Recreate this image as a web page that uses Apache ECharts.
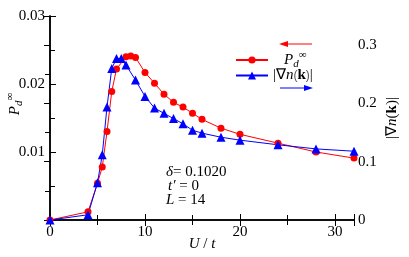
<!DOCTYPE html>
<html><head><meta charset="utf-8">
<script src="https://cdn.jsdelivr.net/npm/echarts@6/dist/echarts.min.js"></script>
<style>html,body{margin:0;padding:0;background:#fff}#c{width:409px;height:257px}</style>
</head><body><div id="c"></div>
<script>
var uRed = [0, 4, 5, 5.5, 6, 6.5, 7, 8, 8.5, 9, 10, 11, 12, 13, 14, 15, 16, 18, 20, 24, 28, 32];
var pdInf = [0, 0.0012, 0.0054, 0.0078, 0.0130, 0.0189, 0.0222, 0.0240, 0.0241, 0.0239, 0.0217, 0.0201, 0.0185, 0.0173, 0.0166, 0.0157, 0.0148, 0.0135, 0.0126, 0.0113, 0.0100, 0.0091];
var uBlue = [0, 4, 5, 5.5, 6, 6.5, 7, 7.5, 8, 9, 10, 11, 12, 13, 14, 15, 16, 18, 20, 24, 28, 32];
var gradN = [0, 0.009, 0.064, 0.112, 0.194, 0.260, 0.277, 0.277, 0.266, 0.240, 0.212, 0.192, 0.183, 0.174, 0.165, 0.154, 0.149, 0.142, 0.137, 0.129, 0.122, 0.118];
var xTicks = [0, 10, 20, 30];
var leftTicks = [0.01, 0.02, 0.03];
var rightTicks = [0, 0.1, 0.2, 0.3];
var notes = ['{i|δ}= 0.1020', '{i|t′} = 0', '{i|L} = 14'];

var FF = 'Liberation Serif';
var RED = '#ff0000', BLUE = '#0000ff';
var richPd = {
  P: {fontFamily: FF, fontStyle: 'italic', fontSize: 15, lineHeight: 20, color: '#000'},
  d: {fontFamily: FF, fontStyle: 'italic', fontSize: 11, lineHeight: 11, verticalAlign: 'bottom', color: '#000'},
  s: {fontFamily: FF, fontSize: 11, lineHeight: 11, verticalAlign: 'top', color: '#000'},
  pad: {width: 11}
};
var richG = {
  t: {fontFamily: FF, fontSize: 15, color: '#000'},
  i: {fontFamily: FF, fontStyle: 'italic', fontSize: 15, color: '#000'},
  b: {fontFamily: FF, fontWeight: 'bold', fontSize: 15, color: '#000'}
};
function fmt(v){ return xTicks.concat(leftTicks, rightTicks).indexOf(v) >= 0 ? String(v) : ''; }

var chart = echarts.init(document.getElementById('c'));
var axLine = {show: true, lineStyle: {color: '#000', width: 1.5}};
chart.setOption({
  animation: false,
  grid: {left: 50, right: 55, top: 16, bottom: 37, containLabel: false, outerBoundsMode: 'none'},
  xAxis: [{
    type: 'value', min: 0, max: 32, interval: 10,
    axisLine: axLine,
    axisTick: {inside: true, length: 6, lineStyle: {color: '#000'}},
    minorTick: {show: true, splitNumber: 2, length: 5, lineStyle: {color: '#000'}},
    splitLine: {show: false},
    axisLabel: {margin: 5, showMaxLabel: false, fontFamily: FF, fontSize: 15, color: '#000', formatter: fmt},
    name: '{i|U} / {i|t}', nameLocation: 'middle', nameGap: 17, nameMoveOverlap: false,
    nameTextStyle: {rich: richG, fontFamily: FF, fontSize: 15, color: '#000'}
  }, {
    type: 'value', min: 0, max: 32, interval: 10, position: 'top',
    axisLine: axLine,
    axisTick: {inside: true, length: 6, lineStyle: {color: '#000'}},
    minorTick: {show: true, splitNumber: 2, length: 5, lineStyle: {color: '#000'}},
    splitLine: {show: false}, axisLabel: {show: false}
  }],
  yAxis: [{
    type: 'value', min: 0, max: 0.03, interval: 0.01, position: 'left',
    axisLine: axLine,
    axisTick: {inside: true, length: 6, lineStyle: {color: '#000'}},
    minorTick: {show: true, splitNumber: 2, length: 5, lineStyle: {color: '#000'}},
    splitLine: {show: false},
    axisLabel: {margin: 5, showMinLabel: false, fontFamily: FF, fontSize: 15, color: '#000', formatter: fmt},
    name: '{P|P}{d|d}{s|∞}', nameLocation: 'middle', nameRotate: 90, nameGap: 25, nameMoveOverlap: false,
    nameTextStyle: {rich: richPd, padding: [0, 0, 0, 28]}
  }, {
    type: 'value', min: 0, max: 0.35, interval: 0.1, position: 'right',
    axisLine: axLine,
    axisTick: {inside: true, length: 6, lineStyle: {color: '#000'}},
    minorTick: {show: true, splitNumber: 2, length: 5, lineStyle: {color: '#000'}},
    splitLine: {show: false},
    axisLabel: {margin: 4, showMaxLabel: false, fontFamily: FF, fontSize: 15, color: '#000', formatter: fmt},
    name: '|∇{i|n}({b|k})|', nameLocation: 'middle', nameRotate: 90, nameGap: 31, nameMoveOverlap: false,
    nameTextStyle: {rich: richG, fontFamily: FF, fontSize: 15, color: '#000'}
  }],
  legend: [{
    data: ['pd'], orient: 'vertical', left: 230, top: 45, itemWidth: 32, itemHeight: 9,
    formatter: function(){ return '{pad|}{P|P}{d|d}{s|∞}'; },
    textStyle: {rich: richPd}
  }, {
    data: ['grad'], orient: 'vertical', left: 230, top: 63, itemWidth: 32, itemHeight: 10,
    formatter: function(){ return '{t||∇}{i|n}({b|k}){t||}'; },
    textStyle: {rich: richG}
  }],
  graphic: [
    {type: 'line', shape: {x1: 286, y1: 44, x2: 312, y2: 44}, style: {stroke: RED, lineWidth: 1}},
    {type: 'polygon', shape: {points: [[279, 44], [288, 41], [288, 47]]}, style: {fill: RED}},
    {type: 'line', shape: {x1: 280, y1: 88, x2: 306, y2: 88}, style: {stroke: BLUE, lineWidth: 1}},
    {type: 'polygon', shape: {points: [[313, 88], [304, 85], [304, 91]]}, style: {fill: BLUE}},
    {type: 'text', left: 166, top: 165, style: {text: notes[0], rich: richG, font: '15px ' + FF, fill: '#000'}},
    {type: 'text', left: 168, top: 179, style: {text: notes[1], rich: richG, font: '15px ' + FF, fill: '#000'}},
    {type: 'text', left: 166, top: 193, style: {text: notes[2], rich: richG, font: '15px ' + FF, fill: '#000'}}
  ],
  series: [{
    name: 'pd', type: 'line', xAxisIndex: 0, yAxisIndex: 0,
    data: uRed.map(function(u, i){ return [u, pdInf[i]]; }),
    symbol: 'circle', symbolSize: 7,
    lineStyle: {color: RED, width: 1}, itemStyle: {color: RED}
  }, {
    name: 'grad', type: 'line', xAxisIndex: 0, yAxisIndex: 1,
    data: uBlue.map(function(u, i){ return [u, gradN[i]]; }),
    symbol: 'triangle', symbolSize: 9,
    lineStyle: {color: BLUE, width: 1}, itemStyle: {color: BLUE}
  }]
});
</script>
</body></html>
